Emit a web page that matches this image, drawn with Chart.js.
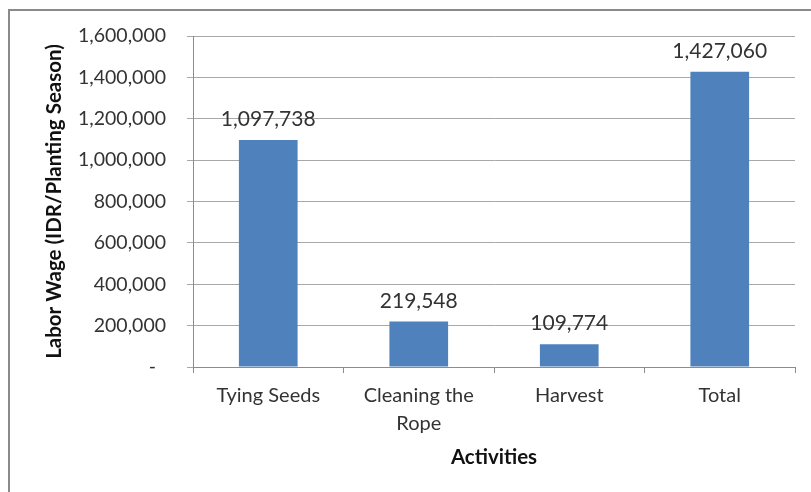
<!DOCTYPE html>
<html>
<head>
<meta charset="utf-8">
<script src="https://cdn.jsdelivr.net/npm/chart.js@4/dist/chart.umd.min.js"></script>
<style>
  html, body { margin: 0; padding: 0; background: #fff; }
  body { width: 811px; height: 492px; position: relative; overflow: hidden; }
  #frame {
    position: absolute; left: 8px; top: 9px; width: 900px; height: 600px;
    border: 2px solid #8a8a8a; box-sizing: border-box;
  }
  #wrap { position: absolute; left: 0; top: 0; width: 811px; height: 492px; }
</style>
</head>
<body>
<div id="frame"></div>
<div id="wrap"><canvas id="wage-chart"></canvas></div>
<script>
var activities = ['Tying Seeds', ['Cleaning the', 'Rope'], 'Harvest', 'Total'];
var wages = [1097738, 219548, 109774, 1427060];
var yMax = 1600000;
var yStep = 200000;

function fmt(v) {
  return Number(v).toLocaleString('en-US');
}

// value labels above each bar
var barLabels = {
  id: 'barLabels',
  afterDatasetsDraw: function (chart) {
    var ctx = chart.ctx;
    var meta = chart.getDatasetMeta(0);
    ctx.save();
    ctx.font = '21px Lato';
    ctx.fillStyle = '#333';
    ctx.textAlign = 'center';
    ctx.textBaseline = 'alphabetic';
    meta.data.forEach(function (bar, i) {
      ctx.fillText(fmt(wages[i]), bar.x, bar.y - 14);
    });
    ctx.restore();
  }
};

Chart.defaults.font.family = 'Lato';
Chart.defaults.color = '#333';

var ctx = document.getElementById('wage-chart').getContext('2d');
var wageChart = new Chart(ctx, {
  type: 'bar',
  data: {
    labels: activities,
    datasets: [{
      data: wages,
      backgroundColor: '#4f81bd',
      borderWidth: 0,
      barPercentage: 0.39,
      categoryPercentage: 1
    }]
  },
  options: {
    responsive: true,
    maintainAspectRatio: false,
    animation: false,
    layout: { padding: { left: 42, right: 16, top: 36, bottom: 0 } },
    plugins: {
      legend: { display: false },
      tooltip: { enabled: false }
    },
    scales: {
      x: {
        grid: {
          offset: true,
          drawOnChartArea: false,
          drawTicks: true,
          tickLength: 6,
          color: '#8c8c8c'
        },
        border: { color: '#8c8c8c', width: 1 },
        ticks: {
          font: { size: 20, lineHeight: 1.4 },
          color: '#333',
          padding: 9,
          maxRotation: 0,
          autoSkip: false
        },
        title: {
          display: true,
          text: 'Activities',
          font: { size: 20.5, weight: 'bold', lineHeight: 1.2 },
          color: '#111',
          padding: { top: 0, bottom: 22 }
        },
        afterFit: function (scale) { scale.height = 125; }
      },
      y: {
        min: 0,
        max: yMax,
        grid: {
          drawTicks: true,
          tickLength: 6,
          color: '#a8a8a8'
        },
        border: { color: '#8c8c8c', width: 1 },
        ticks: {
          stepSize: yStep,
          font: { size: 19.5 },
          color: '#333',
          padding: 21,
          callback: function (v) { return v === 0 ? '-  ' : fmt(v); }
        },
        title: {
          display: true,
          text: 'Labor Wage (IDR/Planting Season)',
          font: { size: 20.5, weight: 'bold', lineHeight: 1.2 },
          color: '#111',
          padding: { top: 0, bottom: 0 }
        },
        afterFit: function (scale) { scale.width = 151; }
      }
    }
  },
  plugins: [barLabels]
});
</script>
</body>
</html>
